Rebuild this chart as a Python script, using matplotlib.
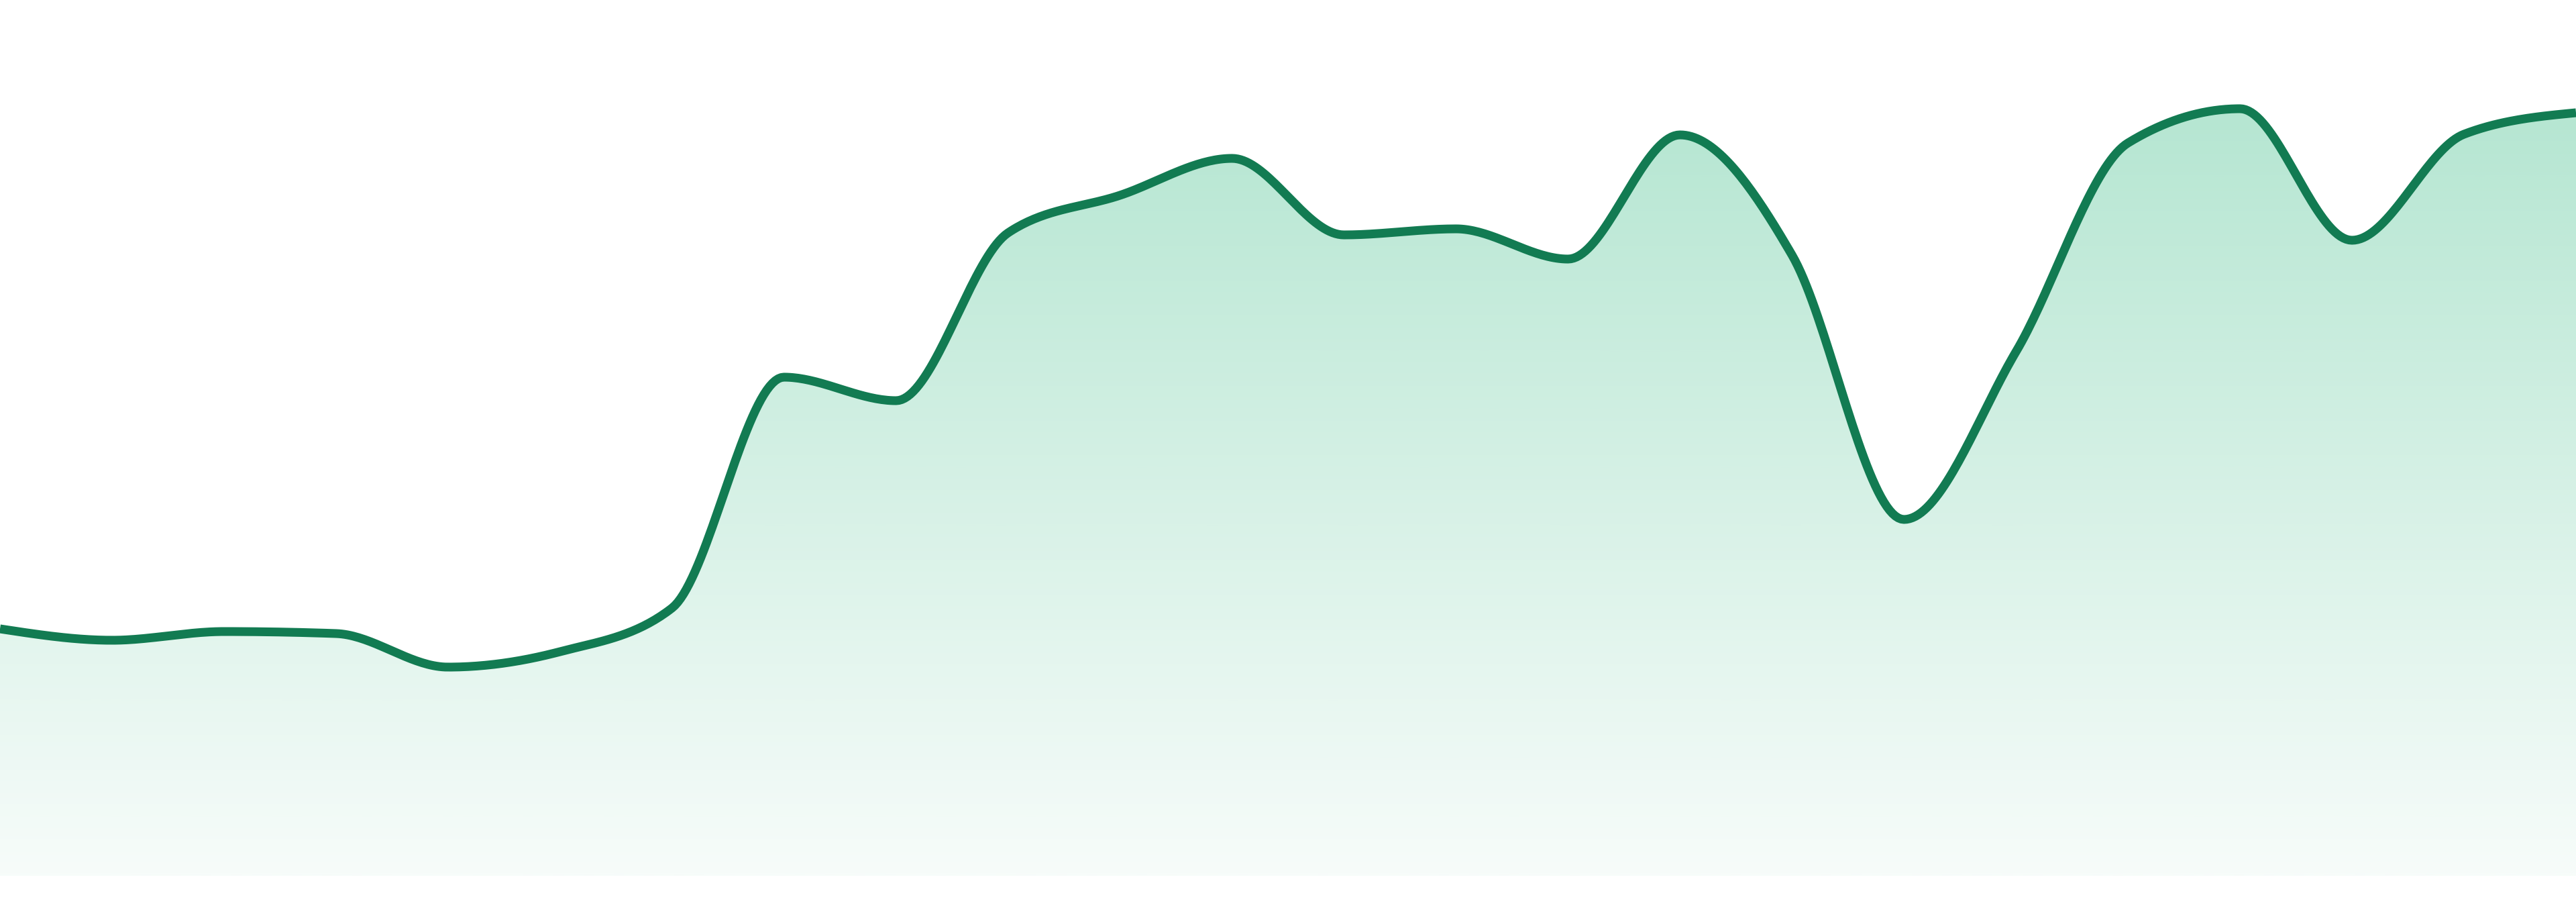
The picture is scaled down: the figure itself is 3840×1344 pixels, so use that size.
import numpy as np
import matplotlib
matplotlib.use("Agg")
import matplotlib.pyplot as plt
from matplotlib.path import Path
from matplotlib.patches import PathPatch
from matplotlib.colors import LinearSegmentedColormap

# ---- data ----
x_index = list(range(24))
values = [36.8, 35.1, 36.4, 36.1, 31.1, 33.4, 39.9, 74.3, 70.8, 95.8, 101.4, 106.9,
          95.5, 96.4, 91.9, 110.4, 92.5, 53.1, 78.1, 109.2, 114.3, 94.7, 110.5, 113.7]

line_color = "#127b52"
fill_top = "#ace3cc"
fill_bottom = "#f7fcfa"


def monotone_x(xs, ys, n=40):
    """d3.curveMonotoneX style interpolation."""
    xs = np.asarray(xs, float)
    ys = np.asarray(ys, float)
    m = len(xs)
    h = np.diff(xs)
    s = np.diff(ys) / h
    t = np.zeros(m)
    for i in range(1, m - 1):
        s0, s1 = s[i - 1], s[i]
        h0, h1 = h[i - 1], h[i]
        p = (s0 * h1 + s1 * h0) / (h0 + h1)
        t[i] = (np.sign(s0) + np.sign(s1)) * min(abs(s0), abs(s1), 0.5 * abs(p))
    t[0] = (3 * s[0] - t[1]) / 2
    t[-1] = (3 * s[-1] - t[-2]) / 2
    px, py = [], []
    u = np.linspace(0, 1, n)
    for i in range(m - 1):
        x0, x1 = xs[i], xs[i + 1]
        y0, y1 = ys[i], ys[i + 1]
        dx = (x1 - x0) / 3
        c = [(x0, y0), (x0 + dx, y0 + dx * t[i]), (x1 - dx, y1 - dx * t[i + 1]), (x1, y1)]
        bx = ((1 - u) ** 3) * c[0][0] + 3 * ((1 - u) ** 2) * u * c[1][0] + 3 * (1 - u) * u ** 2 * c[2][0] + u ** 3 * c[3][0]
        by = ((1 - u) ** 3) * c[0][1] + 3 * ((1 - u) ** 2) * u * c[1][1] + 3 * (1 - u) * u ** 2 * c[2][1] + u ** 3 * c[3][1]
        if i > 0:
            bx, by = bx[1:], by[1:]
        px.extend(bx)
        py.extend(by)
    return np.array(px), np.array(py)


fig = plt.figure(figsize=(38.4, 13.44), dpi=100)
fig.patch.set_facecolor("white")
ax = fig.add_axes([0, 39 / 1344, 1, 1305 / 1344])
ymax = 130.5
ax.set_xlim(0, len(values) - 1)
ax.set_ylim(0, ymax)
ax.axis("off")

cx, cy = monotone_x(x_index, values)

# gradient fill under the curve
verts = list(zip(cx, cy)) + [(cx[-1], 0), (cx[0], 0)]
poly = Path(verts + [verts[0]], closed=True)
patch = PathPatch(poly, facecolor="none", edgecolor="none")
ax.add_patch(patch)
cmap = LinearSegmentedColormap.from_list("g", [fill_bottom, fill_top])
grad = np.linspace(0, 1, 512).reshape(-1, 1)
im = ax.imshow(grad, cmap=cmap, aspect="auto", origin="lower",
               extent=[0, len(values) - 1, 0, ymax], interpolation="bilinear")
im.set_clip_path(patch)

ax.plot(cx, cy, color=line_color, linewidth=9.4, solid_capstyle="butt",
        solid_joinstyle="round", clip_on=False)

fig.savefig("out.png", dpi=100, facecolor="white")
